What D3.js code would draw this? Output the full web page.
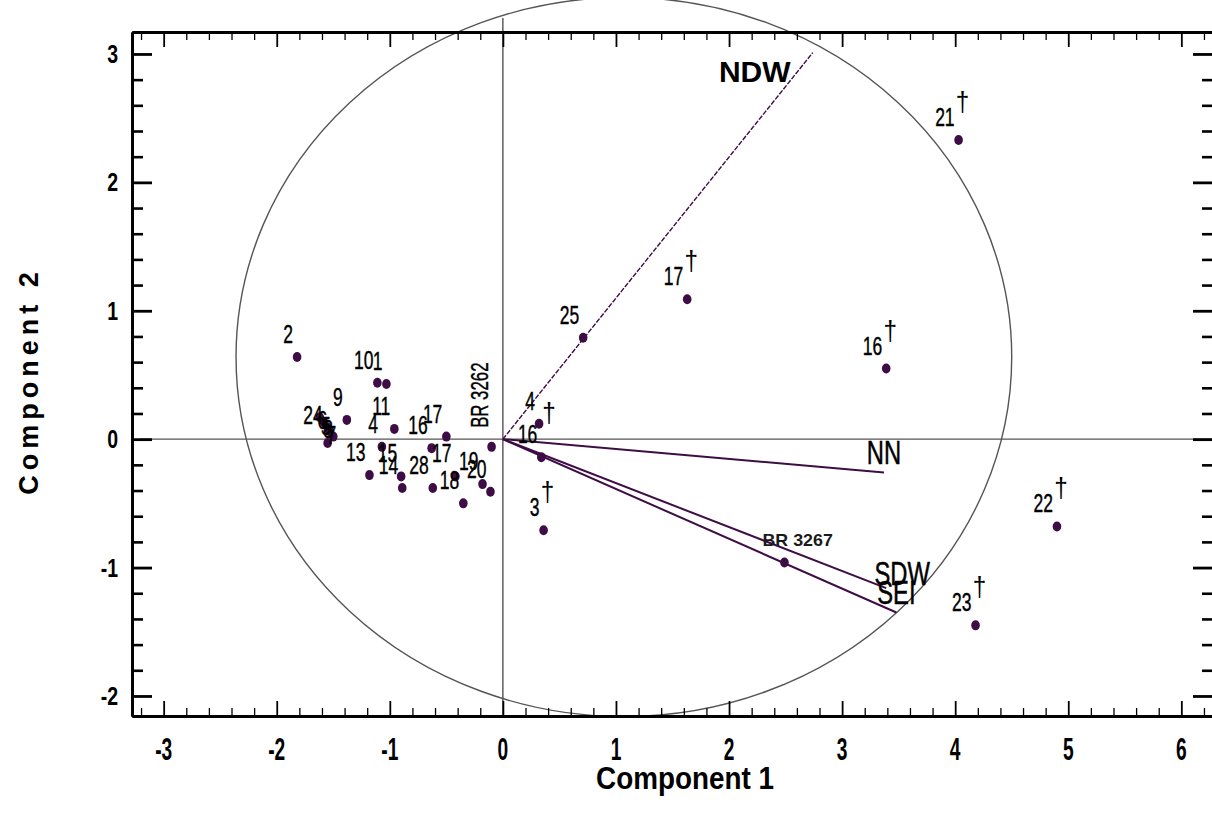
<!DOCTYPE html>
<html><head><meta charset="utf-8">
<script src="https://cdn.jsdelivr.net/npm/d3@7"></script>
<style>body{margin:0;background:#fff}svg{display:block}</style>
</head><body><svg id="c" width="1212" height="817"></svg>
<script>
// ---- data ----
const pointLabels = ["21","17","16","22","23","25","4","16","3","BR 3267",
  "2","10","1","9","24","6","5","8","7","","11","4","13","15","14","16","17","28","17","18","19","20","BR 3262"];
const pointX = [4.03,1.63,3.39,4.90,4.18,0.71,0.32,0.34,0.36,2.49,
  -1.82,-1.11,-1.03,-1.38,-1.62,-1.58,-1.55,-1.53,-1.50,-1.55,-0.96,-1.07,-1.18,-0.90,-0.89,-0.63,-0.50,-0.62,-0.42,-0.35,-0.18,-0.11,-0.10];
const pointY = [2.33,1.09,0.55,-0.68,-1.45,0.79,0.12,-0.14,-0.71,-0.96,
  0.64,0.44,0.43,0.15,0.17,0.13,0.09,0.06,0.02,-0.03,0.08,-0.06,-0.28,-0.29,-0.38,-0.07,0.02,-0.38,-0.29,-0.50,-0.35,-0.41,-0.06];
const pointMarked = [true,true,true,true,true,false,true,false,true,false,
  false,false,false,false,false,false,false,false,false,false,false,false,false,false,false,false,false,false,false,false,false,false,false];
const loadingNames = ["NDW","NN","SDW","SEI"];
const loadingX = [2.74,3.37,3.39,3.48];
const loadingY = [3.01,-0.26,-1.16,-1.35];
const xTicks = [-3,-2,-1,0,1,2,3,4,5,6];
const yTicks = [-2,-1,0,1,2,3];
const circleCenter = [1.07,0.64];
const circleRadius = [3.43,2.80];
const xTitle = "Component 1", yTitle = "Component 2";

// ---- layout ----
const svg = d3.select("#c");
const L = 132, R = 1213, T = 32, B = 716;
const x = d3.scaleLinear().domain([-3.28, 6.28]).range([L, R]);
const y = d3.scaleLinear().domain([-2.156, 3.171]).range([B, T]);
const ink = "#3e0d45";
const sans = "'Liberation Sans', Arial, sans-serif";

function stext(g, str, px, py, o) {
  const t = g.append("text").text(str)
    .attr("transform", `translate(${px},${py})` + (o.rot ? ` rotate(${o.rot})` : "") + ` scale(${o.sx||1},1)`)
    .attr("font-family", o.family || sans)
    .attr("font-size", o.size)
    .attr("font-weight", o.weight || "normal")
    .attr("text-anchor", o.anchor || "start")
    .attr("fill", o.fill || "#000");
  if (o.ls) t.attr("letter-spacing", o.ls);
  if (o.stroke) t.attr("stroke", o.fill || "#000").attr("stroke-width", o.stroke);
  return t;
}

// zero lines
svg.append("line").attr("x1", 140).attr("x2", 1212).attr("y1", y(0)).attr("y2", y(0))
  .attr("stroke", "#555").attr("stroke-width", 1.3);
svg.append("line").attr("x1", x(0)).attr("x2", x(0)).attr("y1", 18).attr("y2", B)
  .attr("stroke", "#444").attr("stroke-width", 1.3);

// correlation ellipse
svg.append("ellipse")
  .attr("cx", x(circleCenter[0])).attr("cy", y(circleCenter[1]))
  .attr("rx", x(circleCenter[0] + circleRadius[0]) - x(circleCenter[0]))
  .attr("ry", y(circleCenter[1]) - y(circleCenter[1] + circleRadius[1]))
  .attr("fill", "none").attr("stroke", "#555").attr("stroke-width", 1.4);

// loading vectors
const vecLabel = {NDW:{dx:-58,dy:29,size:30,weight:"bold",sx:1},
                  NN:{dx:0,dy:-9,size:33,sx:0.72,stroke:0.5},
                  SDW:{dx:16,dy:-3,size:33,sx:0.72,stroke:0.5},
                  SEI:{dx:0,dy:-9,size:33,sx:0.72,stroke:0.5}};
loadingNames.forEach((n,i) => {
  svg.append("line").attr("x1", x(0)).attr("y1", y(0))
    .attr("x2", x(loadingX[i])).attr("y2", y(loadingY[i]))
    .attr("stroke", ink).attr("stroke-width", n === "NDW" ? 1.4 : 2)
    .attr("stroke-dasharray", n === "NDW" ? "5,1.5" : null);
});

// points
svg.append("g").selectAll("ellipse").data(pointX.map((v,i)=>i)).join("ellipse")
  .attr("cx", i => x(pointX[i])).attr("cy", i => y(pointY[i]))
  .attr("rx", 4.3).attr("ry", 5).attr("fill", ink);

// point labels
const lg = svg.append("g");
const blob = [14,15,16,17,18];
pointLabels.forEach((lab,i) => {
  const px = x(pointX[i]), py = y(pointY[i]);
  if (lab === "BR 3262") {
    stext(lg, lab, px - 4, py - 19, {rot:-90, size:24, sx:0.7, stroke:0.4});
  } else if (lab === "BR 3267") {
    stext(lg, lab, px - 22, py - 16, {size:17, weight:"bold", sx:1.05, fill:"#1a1a1a"});
  } else if (lab !== "") {
    let sx = 0, sy = 0;
    if (blob.includes(i)) { sx = 7; sy = 21; }
    stext(lg, lab, px - 4 + sx, py - 14 + sy, {size:25, sx:0.7, anchor:"end", stroke:0.4});
  }
  if (pointMarked[i]) {
    const near = Math.abs(pointX[i]) < 0.5 && pointY[i] > 0;
    stext(lg, "\u2020", px + (near ? 10 : 4), py + (near ? -2 : -29), {size:27, anchor:"middle", sx:0.9});
  }
});

// vector labels on top
loadingNames.forEach((n,i) => {
  const o = vecLabel[n];
  stext(svg, n, x(loadingX[i]) + o.dx, y(loadingY[i]) + o.dy,
    {size:o.size, weight:o.weight, sx:o.sx, anchor:"middle", stroke:o.stroke});
});

// ---- axes: frame with inward ticks on all sides ----
const xMinor = d3.range(-16, 32).filter(k => k % 5 !== 0).map(k => k/5);
const yMinor = d3.range(-10, 16).filter(k => k % 5 !== 0).map(k => k/5);
function axis(gen, tv, size, tr, sw) {
  const g = svg.append("g").attr("transform", tr)
    .call(gen.tickValues(tv).tickSize(size).tickSizeOuter(0).tickFormat(""));
  g.select(".domain").attr("stroke", "#000").attr("stroke-width", 2.8);
  g.selectAll(".tick line").attr("stroke", "#000").attr("stroke-width", sw);
  return g;
}
axis(d3.axisBottom(x), xTicks, -15, `translate(0,${B})`, 1.8);
axis(d3.axisBottom(x), xMinor, -8, `translate(0,${B})`, 1.3);
axis(d3.axisTop(x), xTicks, -15, `translate(0,${T})`, 1.8);
axis(d3.axisTop(x), xMinor, -8, `translate(0,${T})`, 1.3);
axis(d3.axisLeft(y), yTicks, -20, `translate(${L},0)`, 2.8);
axis(d3.axisLeft(y), yMinor, -11, `translate(${L},0)`, 2.6);
axis(d3.axisRight(y), yTicks, -20, `translate(${R},0)`, 2.8);
axis(d3.axisRight(y), yMinor, -11, `translate(${R},0)`, 2.6);

// tick labels
xTicks.forEach(v => stext(svg, String(v), x(v), 760, {size:32, weight:"bold", sx:0.6, anchor:"middle"}));
yTicks.forEach(v => stext(svg, String(v), 118, y(v) + 9, {size:25, weight:"bold", sx:0.78, anchor:"end"}));

// titles
stext(svg, xTitle, 685, 789, {size:32, weight:"bold", sx:0.87, anchor:"middle"});
stext(svg, yTitle, 38, 381, {rot:-90, size:27, weight:"bold", sx:1, anchor:"middle", ls:5});
</script>
</body></html>
